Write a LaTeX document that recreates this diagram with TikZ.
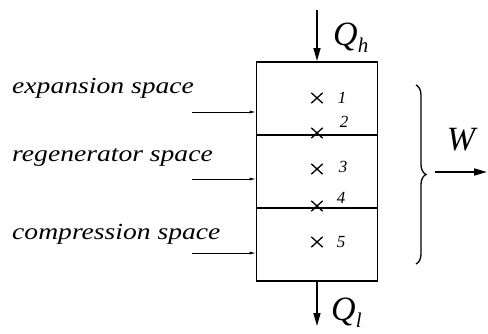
\documentclass[tikz,border=0pt]{standalone}
\usepackage{fontspec}
\setmainfont{Liberation Serif}
\usetikzlibrary{arrows.meta,shapes.misc,decorations.pathreplacing}
\newcommand{\subsc}[1]{\raisebox{-7pt}{\fontsize{21}{21}\selectfont #1}}
\begin{document}
\begin{tikzpicture}[x=1pt,y=-1pt,
  section/.style={draw,line width=1.6pt,minimum width=121pt,minimum height=73pt,inner sep=0pt,anchor=north},
  xmark/.style={cross out,draw,line width=1.3pt,minimum width=10pt,minimum height=9pt,inner sep=0pt},
  num/.style={font=\itshape\fontsize{17}{17}\selectfont,inner sep=0pt},
  lbl/.style={font=\itshape\fontsize{23}{23}\selectfont,inner sep=0pt,anchor=west,xscale=1.2},
  thin/.style={-{Latex[length=6pt,width=3pt]},line width=0.7pt},
  heat/.style={-{Triangle[length=13pt,width=7pt]},line width=1.6pt},
  big/.style={font=\itshape\fontsize{34}{34}\selectfont,inner sep=0pt}
]
\useasboundingbox (0,0) rectangle (488,333);
% sections
\node[section] (exp) at (317,61) {};
\node[section] (reg) at (317,134) {};
\node[section] (cmp) at (317,207) {};
% crosses
\node[xmark] (c1) at (317,98) {};
\node[xmark] (c2) at (317,133) {};
\node[xmark] (c3) at (317,169) {};
\node[xmark] (c4) at (317,206) {};
\node[xmark] (c5) at (317,242) {};
\node[num] (n1) at (342,98) {1};
\node[num] (n2) at (344,122) {2};
\node[num] (n3) at (343,167) {3};
\node[num] (n4) at (341,198) {4};
\node[num] (n5) at (341,242) {5};
% heat arrows
\coordinate (qtop) at (317,10);
\coordinate (qbot) at (317,326);
\draw[heat] (qtop) -- (exp.north);
\draw[heat] (cmp.south) -- (qbot);
\node[big,anchor=west] (Qh) at (333,38) {Q\subsc{h}};
\node[big,anchor=west] (Ql) at (331,313) {Q\subsc{l}};
% left labels
\node[lbl] (le) at (12,88) {expansion space};
\node[lbl] (lr) at (12,157) {regenerator space};
\node[lbl] (lc) at (12,234) {compression space};
\coordinate (ae) at (192,112);
\coordinate (ar) at (192,179);
\coordinate (ac) at (192,253);
\draw[thin] (ae) -- (ae -| exp.west);
\draw[thin] (ar) -- (ar -| reg.west);
\draw[thin] (ac) -- (ac -| cmp.west);
% brace and work
\coordinate (bt) at (416,85);
\coordinate (bb) at (416,264);
\draw[line width=1.3pt,decorate,decoration={brace,amplitude=10pt}] (bt) -- (bb);
\coordinate (wst) at (435,172);
\coordinate (wen) at (487,172);
\draw[heat] (wst) -- (wen);
\node[big] (W) at (461,140) {W};
\end{tikzpicture}
\end{document}
